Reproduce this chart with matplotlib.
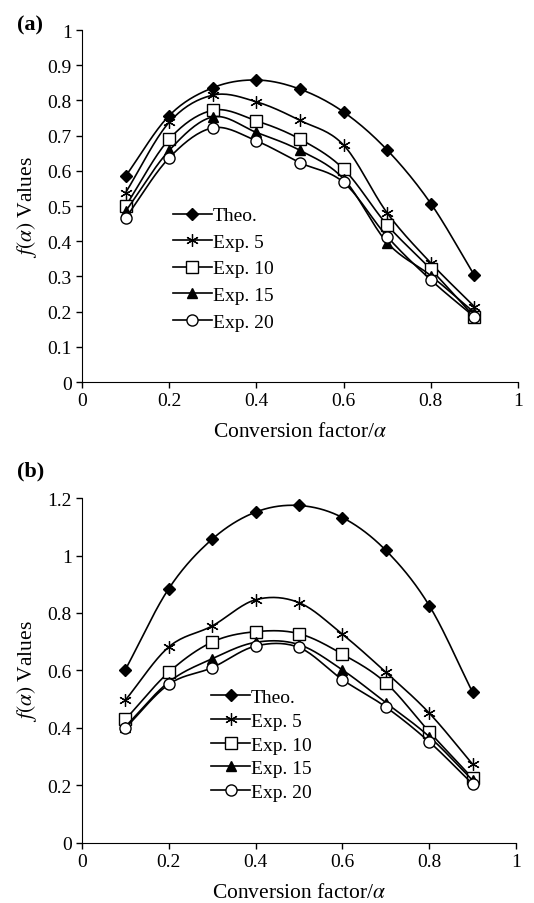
import numpy as np
import matplotlib
matplotlib.use('Agg')
import matplotlib.pyplot as plt

plt.rcParams['font.family'] = ['Liberation Serif', 'DejaVu Serif']
plt.rcParams['mathtext.fontset'] = 'stix'

# data
alpha = [0.1, 0.2, 0.3, 0.4, 0.5, 0.6, 0.7, 0.8, 0.9]
labels = ['Theo.', 'Exp. 5', 'Exp. 10', 'Exp. 15', 'Exp. 20']

a_theo = [0.585, 0.757, 0.836, 0.858, 0.832, 0.767, 0.659, 0.507, 0.303]
a_exp5 = [0.538, 0.738, 0.815, 0.796, 0.743, 0.673, 0.480, 0.338, 0.214]
a_exp10 = [0.500, 0.690, 0.772, 0.742, 0.690, 0.605, 0.446, 0.320, 0.185]
a_exp15 = [0.485, 0.658, 0.753, 0.709, 0.658, 0.577, 0.396, 0.302, 0.197]
a_exp20 = [0.466, 0.637, 0.722, 0.685, 0.623, 0.567, 0.413, 0.290, 0.185]

b_theo = [0.603, 0.885, 1.057, 1.151, 1.174, 1.132, 1.018, 0.826, 0.524]
b_exp5 = [0.497, 0.682, 0.755, 0.846, 0.836, 0.726, 0.594, 0.452, 0.274]
b_exp10 = [0.430, 0.594, 0.699, 0.735, 0.728, 0.657, 0.557, 0.387, 0.225]
b_exp15 = [0.405, 0.560, 0.641, 0.698, 0.690, 0.602, 0.488, 0.370, 0.218]
b_exp20 = [0.400, 0.552, 0.610, 0.685, 0.680, 0.568, 0.473, 0.352, 0.205]

markers = [dict(marker='D', ms=6, mfc='black'),
           dict(marker=(6, 2, 0), ms=9, mfc='black', mew=0.9),
           dict(marker='s', ms=8, mfc='white', mew=1.0),
           dict(marker='^', ms=7, mfc='black'),
           dict(marker='o', ms=8, mfc='white', mew=1.0)]


# smooth curve through the points (like excel smoothed lines)
def smooth(x, y, n=20):
    x = np.asarray(x, float)
    y = np.asarray(y, float)
    px = np.concatenate([[2 * x[0] - x[1]], x, [2 * x[-1] - x[-2]]])
    py = np.concatenate([[2 * y[0] - y[1]], y, [2 * y[-1] - y[-2]]])
    xs, ys = [], []
    t = np.linspace(0, 1, n)
    for i in range(1, len(px) - 2):
        for arr, out in ((px, xs), (py, ys)):
            p0, p1, p2, p3 = arr[i - 1], arr[i], arr[i + 1], arr[i + 2]
            out.extend(0.5 * (2 * p1 + (-p0 + p2) * t
                              + (2 * p0 - 5 * p1 + 4 * p2 - p3) * t ** 2
                              + (-p0 + 3 * p1 - 3 * p2 + p3) * t ** 3))
    return xs, ys


def panel(ax, series, ymax, ystep, leg_anchor, spacing):
    for ys, lab, mk in zip(series, labels, markers):
        sx, sy = smooth(alpha, ys)
        ax.plot(sx, sy, color='black', lw=1.2)
        ax.plot(alpha, ys, ls='none', color='black', mec='black', **mk)
        # legend proxy
        ax.plot([], [], color='black', lw=1.2, label=lab, **mk)
    ax.set_xlim(0, 1)
    ax.set_ylim(0, ymax)
    ax.set_xticks(np.arange(0, 1.01, 0.2))
    ax.set_xticklabels(['0', '0.2', '0.4', '0.6', '0.8', '1'])
    yt = np.arange(0, ymax + 1e-9, ystep)
    ax.set_yticks(yt)
    ax.set_yticklabels(['%g' % v for v in np.round(yt, 2)])
    ax.spines['top'].set_visible(False)
    ax.spines['right'].set_visible(False)
    ax.tick_params(direction='out', length=4, labelsize=14, width=1)
    ax.set_xlabel('Conversion factor/$\\alpha$', fontsize=15.5, labelpad=9)
    ax.set_ylabel('$f(\\alpha)$ Values', fontsize=15.5, labelpad=6)
    ax.legend(loc='upper left', bbox_to_anchor=leg_anchor, frameon=False,
              fontsize=14, handlelength=2.0, handletextpad=0.05,
              labelspacing=spacing, borderaxespad=0)


fig = plt.figure(figsize=(5.34, 9.04), dpi=100)
ax1 = fig.add_axes([0.1536, 0.5763, 0.8165, 0.3894])
ax2 = fig.add_axes([0.1536, 0.0664, 0.8127, 0.3816])

panel(ax1, [a_theo, a_exp5, a_exp10, a_exp15, a_exp20], 1.0, 0.1,
      (0.19, 0.52), 0.46)
panel(ax2, [b_theo, b_exp5, b_exp10, b_exp15, b_exp20], 1.2, 0.2,
      (0.28, 0.47), 0.31)

fig.text(0.032, 0.972, '(a)', fontsize=16, fontweight='bold', va='center')
fig.text(0.032, 0.478, '(b)', fontsize=16, fontweight='bold', va='center')

fig.savefig('out.png', dpi=100)
